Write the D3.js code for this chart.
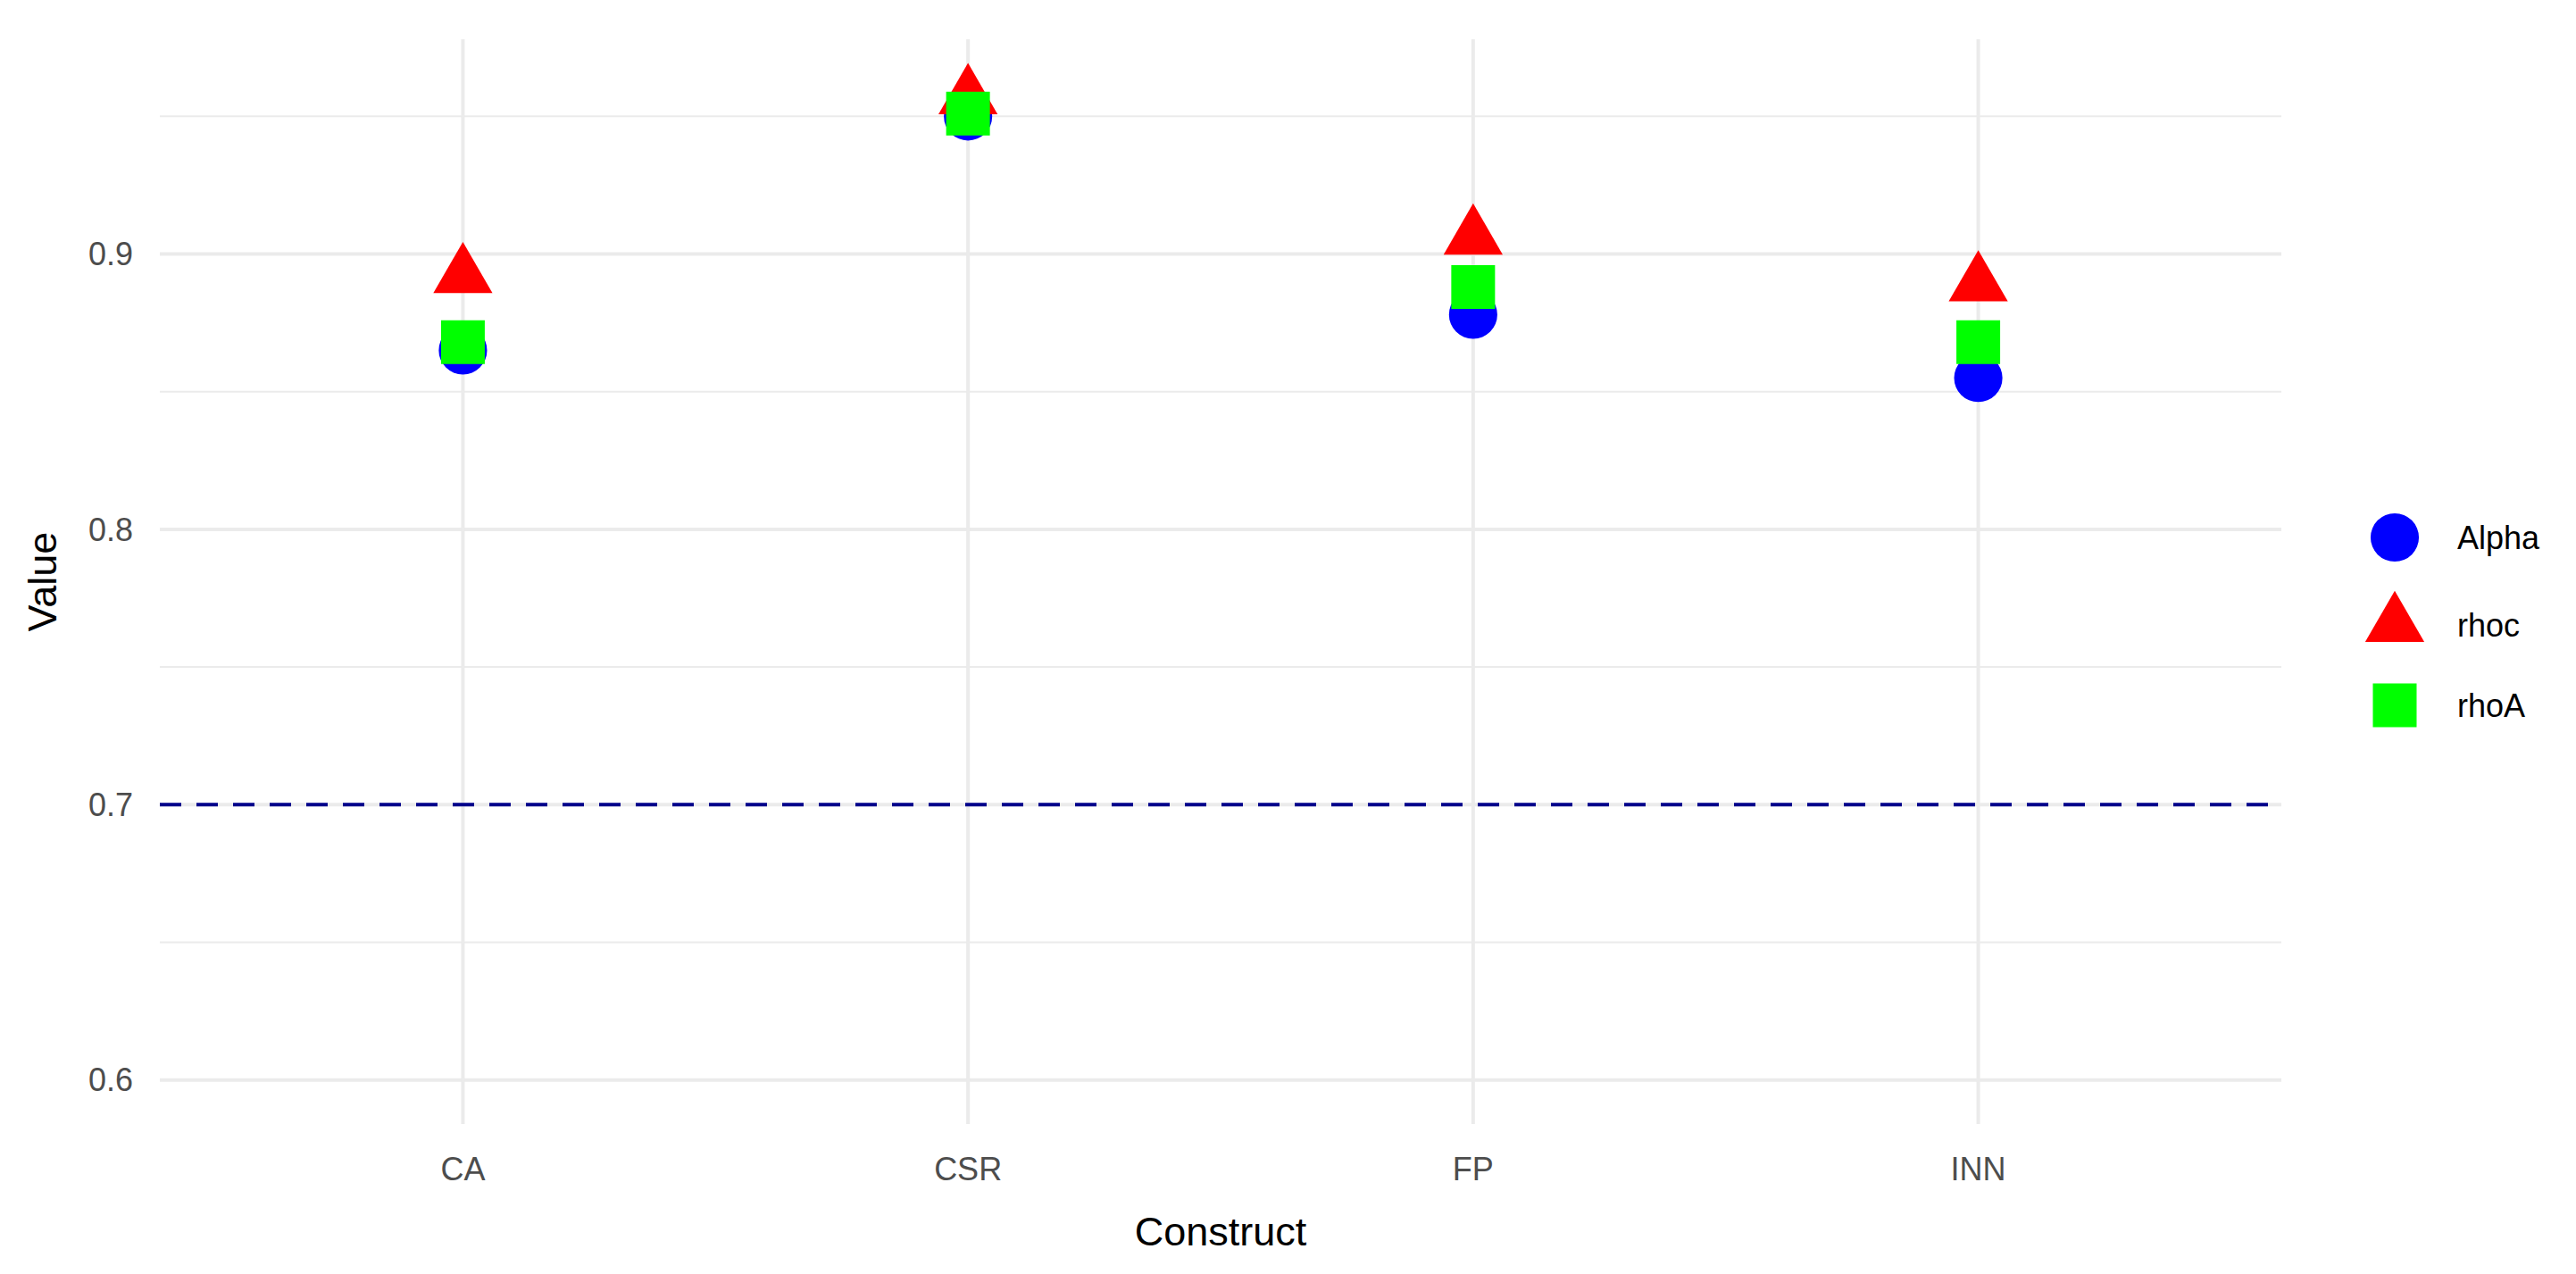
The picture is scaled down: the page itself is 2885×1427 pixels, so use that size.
<!DOCTYPE html>
<html><head><meta charset="utf-8">
<script src="https://cdnjs.cloudflare.com/ajax/libs/d3/7.8.5/d3.min.js"></script>
<style>body{margin:0;background:#fff}text{font-family:"Liberation Sans",Arial,sans-serif}</style>
</head><body><svg id="chart" width="2885" height="1427"></svg>
<script>
var constructs = ["CA", "CSR", "FP", "INN"];
var alpha = [0.865, 0.950, 0.878, 0.855];
var rhoc = [0.892, 0.957, 0.906, 0.889];
var rhoA = [0.868, 0.951, 0.888, 0.868];
var yTicks = [0.6, 0.7, 0.8, 0.9];
var yMinor = [0.65, 0.75, 0.85, 0.95];
var threshold = 0.7;
var seriesNames = ["Alpha", "rhoc", "rhoA"];
var seriesColors = ["#0000ff", "#ff0000", "#00ff00"];

var svg = d3.select("#chart");
var panelLeft = 179, panelRight = 2555, panelTop = 44, panelBottom = 1259;

var x = d3.scalePoint().domain(constructs).range([panelLeft, panelRight]).padding(0.6);
var y = d3.scaleLinear().domain([0.584, 0.978]).range([panelBottom, panelTop]);

// grid
svg.selectAll("line.minor").data(yMinor).enter().append("line")
    .attr("x1", panelLeft).attr("x2", panelRight).attr("y1", d => y(d)).attr("y2", d => y(d))
    .attr("stroke", "#ebebeb").attr("stroke-width", 2);
svg.selectAll("line.major").data(yTicks).enter().append("line")
    .attr("x1", panelLeft).attr("x2", panelRight).attr("y1", d => y(d)).attr("y2", d => y(d))
    .attr("stroke", "#ebebeb").attr("stroke-width", 4);
svg.selectAll("line.vmajor").data(constructs).enter().append("line")
    .attr("x1", d => x(d)).attr("x2", d => x(d)).attr("y1", panelTop).attr("y2", panelBottom)
    .attr("stroke", "#ebebeb").attr("stroke-width", 4);

// threshold
svg.append("line").attr("x1", panelLeft).attr("x2", panelRight)
    .attr("y1", y(threshold)).attr("y2", y(threshold))
    .attr("stroke", "#00008b").attr("stroke-width", 4).attr("stroke-dasharray", "24,17");

// axis labels
svg.selectAll("text.ytick").data(yTicks).enter().append("text")
    .attr("x", panelLeft - 30).attr("y", d => y(d)).attr("dy", "0.35em")
    .attr("text-anchor", "end").attr("font-size", 36).attr("fill", "#4d4d4d")
    .text(d => d3.format(".1f")(d));
svg.selectAll("text.xtick").data(constructs).enter().append("text")
    .attr("x", d => x(d)).attr("y", 1322).attr("text-anchor", "middle")
    .attr("font-size", 36).attr("fill", "#4d4d4d").text(d => d);
svg.append("text").attr("x", (panelLeft + panelRight) / 2).attr("y", 1395)
    .attr("text-anchor", "middle").attr("font-size", 45).attr("fill", "#000").text("Construct");
svg.append("text").attr("transform", "translate(63," + ((panelTop + panelBottom) / 2) + ") rotate(-90)")
    .attr("text-anchor", "middle").attr("font-size", 45).attr("fill", "#000").text("Value");

var shapes = [d3.symbolCircle, d3.symbolTriangle, d3.symbolSquare];
var sizes = [2300, 1900, 2400];
var allSeries = [alpha, rhoc, rhoA];

allSeries.forEach(function(vals, s) {
    svg.selectAll("path.s" + s).data(vals).enter().append("path")
        .attr("d", d3.symbol().type(shapes[s]).size(sizes[s]))
        .attr("transform", (d, i) => "translate(" + x(constructs[i]) + "," + y(d) + ")")
        .attr("fill", seriesColors[s]);
});

// legend
var legY = [602, 700, 790];
seriesNames.forEach(function(name, s) {
    svg.append("path").attr("d", d3.symbol().type(shapes[s]).size(sizes[s]))
        .attr("transform", "translate(2682," + legY[s] + ")").attr("fill", seriesColors[s]);
    svg.append("text").attr("x", 2752).attr("y", legY[s]).attr("dy", "0.35em")
        .attr("font-size", 36).attr("fill", "#000").text(name);
});
</script></body></html>
